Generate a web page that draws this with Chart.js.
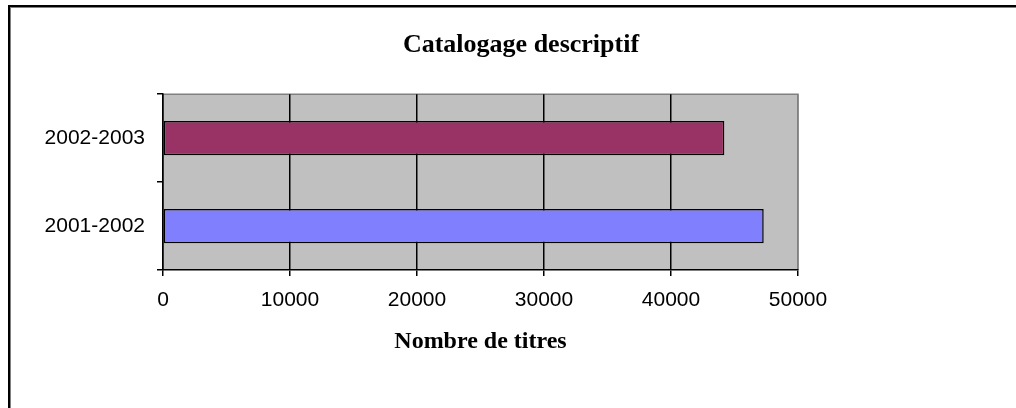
<!DOCTYPE html>
<html>
<head>
<meta charset="utf-8">
<script src="https://cdn.jsdelivr.net/npm/chart.js@4/dist/chart.umd.min.js"></script>
<style>
  html, body { margin: 0; padding: 0; background: #fff; width: 1016px; height: 408px; overflow: hidden; }
  #cadre { position: absolute; left: 8px; top: 5px; right: 0; bottom: 0; border-left: 2px solid #000; border-top: 2px solid #000; box-shadow: inset 1px 1px 0 #808080; }
  #wrap { position: absolute; left: 26px; top: 0; width: 990px; height: 408px; }
</style>
</head>
<body>
<div id="cadre"></div>
<div id="wrap"><canvas id="chartCatalogage"></canvas></div>
<script>
// Données
const annees = ['2001-2002', '2002-2003'];
const titres = [47300, 44200];
const couleurs = ['#8080ff', '#993366'];
const graduations = [0, 10000, 20000, 30000, 40000, 50000];

Chart.defaults.font.family = '"Liberation Sans", Arial, sans-serif';
Chart.defaults.color = '#000';

// fond gris de la zone de traçage + bord haut/droit gris
const fondZone = {
  id: 'fondZone',
  beforeDraw(chart) {
    const { ctx, chartArea: a } = chart;
    ctx.save();
    ctx.fillStyle = '#c0c0c0';
    ctx.fillRect(a.left, a.top, a.right - a.left, a.bottom - a.top);
    ctx.strokeStyle = '#808080';
    ctx.lineWidth = 1.5;
    ctx.beginPath();
    ctx.moveTo(a.left, a.top);
    ctx.lineTo(a.right, a.top);
    ctx.lineTo(a.right, a.bottom);
    ctx.stroke();
    ctx.restore();
  },
};

const titreFont = { family: '"Liberation Serif", "Times New Roman", serif', weight: 'bold' };

new Chart(document.getElementById('chartCatalogage'), {
  type: 'bar',
  data: {
    labels: annees,
    datasets: [{
      data: titres,
      backgroundColor: couleurs,
      borderColor: '#000',
      borderWidth: 1.5,
      borderSkipped: false,
      barPercentage: 0.39,
      categoryPercentage: 1,
    }],
  },
  options: {
    indexAxis: 'y',
    responsive: true,
    maintainAspectRatio: false,
    animation: false,
    layout: { padding: { left: 0, right: 0, top: 0, bottom: 48 } },
    plugins: {
      legend: { display: false },
      tooltip: { enabled: false },
      title: {
        display: true,
        text: 'Catalogage descriptif',
        color: '#000',
        font: { ...titreFont, size: 26 },
        padding: { top: 30, bottom: 33 },
      },
    },
    scales: {
      x: {
        min: graduations[0],
        max: graduations[graduations.length - 1],
        afterBuildTicks: (s) => { s.ticks = graduations.map((v) => ({ value: v })); },
        ticks: { font: { size: 21 }, padding: 12, color: '#000', callback: (v) => String(v) },
        grid: {
          color: (c) => (c.tick && c.tick.value === 50000 ? '#808080' : '#000'),
          tickColor: '#000',
          lineWidth: 1.5,
          tickLength: 6,
        },
        border: { color: '#000', width: 1.5 },
        title: {
          display: true,
          text: 'Nombre de titres',
          color: '#000',
          font: { ...titreFont, size: 24 },
          padding: { top: 2, bottom: 4 },
        },
      },
      y: {
        reverse: true,
        offset: true,
        afterFit: (s) => { s.width = 137; },
        ticks: { font: { size: 21 }, padding: 12, color: '#000' },
        grid: { offset: true, drawOnChartArea: false, color: '#000', lineWidth: 1.5, tickLength: 6 },
        border: { color: '#000', width: 1.5 },
      },
      marge: {
        axis: 'y',
        type: 'category',
        position: 'right',
        ticks: { display: false },
        grid: { display: false },
        border: { display: false },
        afterFit: (s) => { s.width = 218; },
      },
    },
  },
  plugins: [fondZone],
});
</script>
</body>
</html>
